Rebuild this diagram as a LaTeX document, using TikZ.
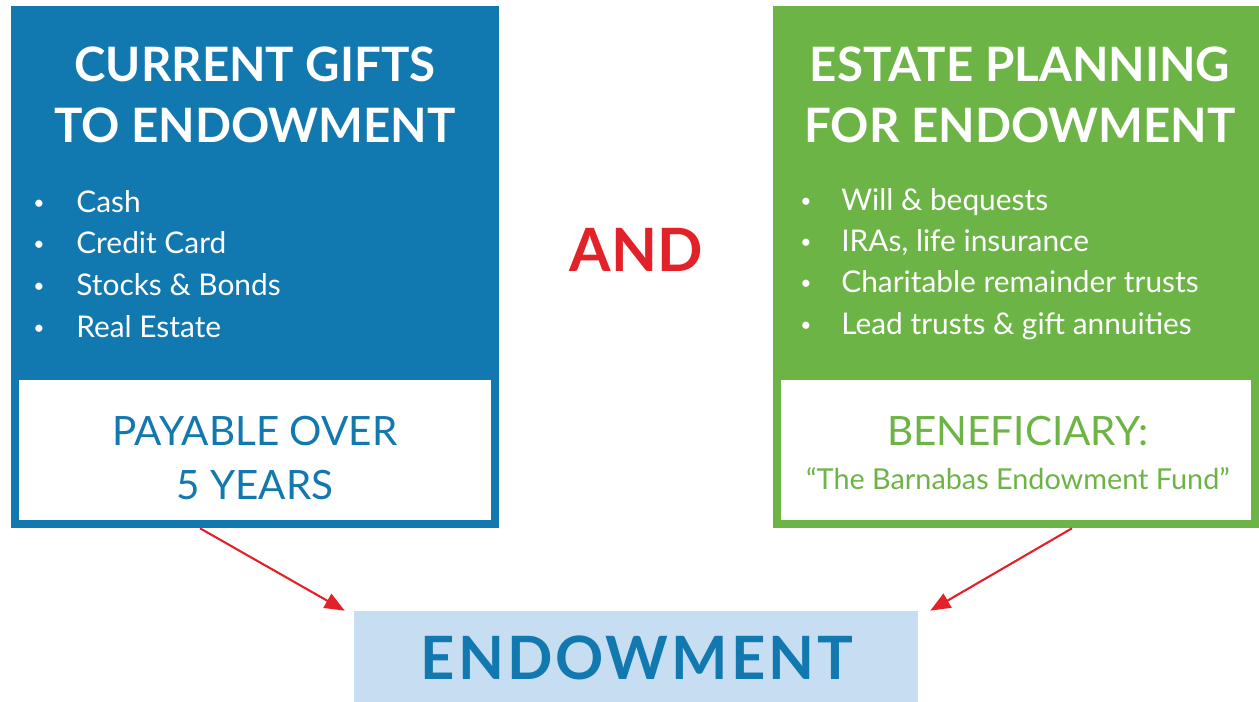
\documentclass[tikz,border=0pt]{standalone}
\usepackage{fontspec}
\setmainfont{Lato}
\usetikzlibrary{arrows.meta}
\definecolor{giftblue}{RGB}{18,120,176}
\definecolor{estategreen}{RGB}{109,180,70}
\definecolor{andred}{RGB}{227,33,40}
\definecolor{endowblue}{RGB}{199,222,242}
\tikzset{
  bigbox/.style={inner sep=0pt, minimum width=9.76cm, minimum height=10.44cm},
  footbox/.style={fill=white, inner sep=0pt, minimum width=9.44cm, minimum height=2.8cm},
  headtext/.style={anchor=base, text=white, font=\fontsize{27}{30}\selectfont\bfseries},
  itemtext/.style={anchor=base west, inner sep=0pt, text=white, font=\fontsize{17}{20}\selectfont},
  dot/.style={anchor=base, text=white, font=\fontsize{11}{14}\selectfont},
  flow/.style={draw=andred, line width=1.2pt, -{Triangle[length=0.4cm,width=0.32cm]}}
}
\begin{document}
\begin{tikzpicture}[x=0.02cm, y=-0.02cm]
\useasboundingbox (0,0) rectangle (1259,702);
% left column
\node [bigbox, fill=giftblue] (curgifts) at (255,267) {};
\node [footbox] (payable) at (255,450) {};
\node [headtext] at (255,82) {CURRENT GIFTS};
\node [headtext] at (255,143) {TO ENDOWMENT};
\node [dot] at (39,210) {•};
\node [dot] at (39,251) {•};
\node [dot] at (39,293) {•};
\node [dot] at (39,335) {•};
\node [itemtext] at (76,213) {Cash};
\node [itemtext] at (76,254) {Credit Card};
\node [itemtext] at (76,296) {Stocks \& Bonds};
\node [itemtext] at (76,338) {Real Estate};
\node [anchor=base, text=giftblue, font=\fontsize{23}{26}\selectfont] at (255,446) {PAYABLE OVER};
\node [anchor=base, text=giftblue, font=\fontsize{23}{26}\selectfont] at (255,500) {5 YEARS};
% right column
\node [bigbox, fill=estategreen, minimum width=9.72cm] (estate) at (1016,267) {};
\node [footbox, minimum width=9.4cm] (benef) at (1016,450) {};
\node [headtext] at (1020,82) {ESTATE PLANNING};
\node [headtext] at (1020,143) {FOR ENDOWMENT};
\node [dot] at (806,208) {•};
\node [dot] at (806,249) {•};
\node [dot] at (806,290) {•};
\node [dot] at (806,332) {•};
\node [itemtext] at (841,211) {Will \& bequests};
\node [itemtext] at (841,252) {IRAs, life insurance};
\node [itemtext] at (841,293) {Charitable remainder trusts};
\node [itemtext] at (841,335) {Lead trusts \& gift annuities};
\node [anchor=base, text=estategreen, font=\fontsize{23}{26}\selectfont] at (1018,446) {BENEFICIARY:};
\node [anchor=base, text=estategreen, font=\fontsize{16.4}{18}\selectfont] at (1018,490) {“The Barnabas Endowment Fund”};
% middle
\node [anchor=base, text=andred, font=\fontsize{34}{36}\selectfont\bfseries] (and) at (636,272) {AND};
\node [fill=endowblue, inner sep=0pt, minimum width=11.28cm, minimum height=1.82cm] (endow) at (636,656.5) {};
\node [anchor=base, text=giftblue, font=\fontsize{34}{36}\selectfont\bfseries\addfontfeatures{LetterSpace=5}] at (637,680) {ENDOWMENT};
\draw [flow] ([xshift=-1.1cm]curgifts.south) -- ([xshift=-0.18cm]endow.north west);
\draw [flow] ([xshift=1.12cm]estate.south) -- ([xshift=0.24cm]endow.north east);
\end{tikzpicture}
\end{document}
